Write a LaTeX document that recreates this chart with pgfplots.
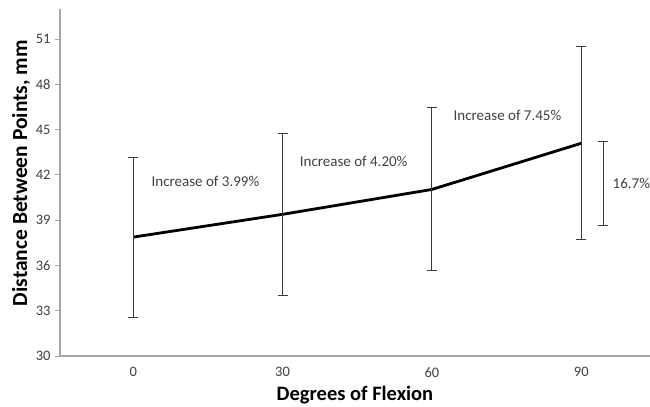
\documentclass[border=0pt]{standalone}
\usepackage{pgfplots}
\pgfplotsset{compat=1.18}
\usepackage{fontspec}
\setmainfont{Carlito}
\definecolor{axgray}{HTML}{A6A6A6}
\definecolor{txtgray}{HTML}{404040}
\definecolor{ebgray}{HTML}{3A3A3A}
\begin{document}
\begin{tikzpicture}
\begin{axis}[
  scale only axis,
  width=590bp, height=347bp,
  xmin=-0.49, xmax=3.46,
  ymin=30, ymax=53,
  axis lines*=left,
  axis line style={axgray, line width=1.4bp, -},
  xtick={0,1,2,3},
  xticklabels={0,30,60,90},
  ytick={30,33,...,51},
  major x tick style={draw=none},
  major y tick style={axgray, line width=1bp},
  tick align=outside,
  major tick length=5bp,
  tick label style={font=\fontsize{14.5bp}{17bp}\selectfont, text=txtgray},
  /pgf/number format/assume math mode=true,
  yticklabel style={xshift=-1bp},
  xticklabel style={yshift=-3bp},
  xlabel={\textbf{Degrees of Flexion}},
  ylabel={\textbf{Distance Between Points, mm}},
  xlabel style={font=\fontsize{20.5bp}{24bp}\selectfont, text=black, yshift=-2bp},
  ylabel style={font=\fontsize{21.5bp}{25bp}\selectfont, text=black, at={(ticklabel cs:0.527)}, yshift=-1bp},
  clip=false,
]
\addplot[black, line width=2.8bp, mark=none,
  error bars/.cd, y dir=both, y explicit,
  error bar style={ebgray, line width=1bp},
  error mark options={ebgray, line width=1bp, rotate=90, mark size=5bp}]
  coordinates {
  (0,37.88) +- (0,5.30)
  (1,39.39) +- (0,5.37)
  (2,41.04) +- (0,5.40)
  (3,44.10) +- (0,6.40)
};
\addplot[draw=none, mark=none,
  error bars/.cd, y dir=both, y explicit,
  error bar style={ebgray, line width=1bp},
  error mark options={ebgray, line width=1bp, rotate=90, mark size=5bp}]
  coordinates {
  (3.147,41.43) +- (0,2.78)
};
\node[font=\fontsize{15bp}{18bp}\selectfont, text=txtgray] at (axis cs:0.484,41.6) {Increase of 3.99\%};
\node[font=\fontsize{15bp}{18bp}\selectfont, text=txtgray] at (axis cs:1.476,42.92) {Increase of 4.20\%};
\node[font=\fontsize{15bp}{18bp}\selectfont, text=txtgray] at (axis cs:2.506,45.97) {Increase of 7.45\%};
\node[font=\fontsize{15bp}{18bp}\selectfont, text=txtgray] at (axis cs:3.335,41.46) {16.7\%};
\end{axis}
\pgfresetboundingbox
\path[use as bounding box] (current axis.south west) ++(-60bp,-51bp) rectangle ++(650bp,407bp);
\end{tikzpicture}
\end{document}
